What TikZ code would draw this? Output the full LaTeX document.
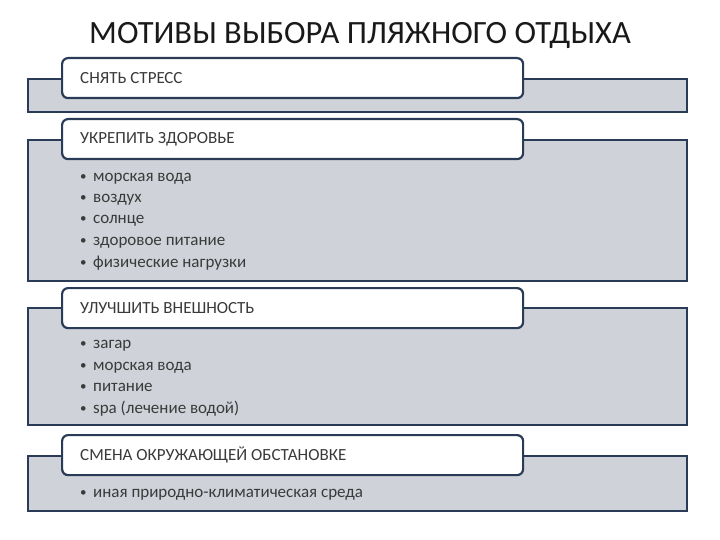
\documentclass[tikz,border=0pt]{standalone}
\usepackage{fontspec}
\setmainfont{Carlito}
\definecolor{navy}{HTML}{2A3B58}
\definecolor{panelgray}{HTML}{CFD3D9}
\definecolor{txt}{HTML}{3A3A3A}
\newcommand{\bul}{\raisebox{0.8pt}{\fontsize{13}{13}\selectfont•}\hspace{6.5pt}}
\begin{document}
\begin{tikzpicture}[x=1pt,y=-1pt,
  panel/.style={draw=navy,fill=panelgray,line width=2.2pt,anchor=north west,minimum width=659pt,inner sep=0pt},
  hdr/.style={draw=navy,fill=white,line width=2.2pt,rounded corners=6pt,anchor=north west,minimum width=461pt,minimum height=40pt,inner sep=0pt},
  hdrtext/.style={anchor=west,inner sep=0pt,text=txt,font=\fontsize{17}{19}\selectfont},
  item/.style={anchor=west,inner sep=0pt,text=txt,text height=11pt,text depth=4pt,font=\fontsize{17}{19}\selectfont}]
\useasboundingbox (0,0) rectangle (720,540);
\fill[white] (0,0) rectangle (720,540);
\node[text=black!90,font=\fontsize{32.5}{36}\selectfont] (title) at (360,35) {МОТИВЫ ВЫБОРА ПЛЯЖНОГО ОТДЫХА};
% panels
\node[panel,minimum height=33pt] (p1) at (27,78) {};
\node[panel,minimum height=141pt] (p2) at (27,139) {};
\node[panel,minimum height=117pt] (p3) at (27,307) {};
\node[panel,minimum height=55pt] (p4) at (27,455) {};
% headers
\node[hdr] (h1) at (61,57) {};
\node[hdr] (h2) at (61,118) {};
\node[hdr] (h3) at (61,287) {};
\node[hdr] (h4) at (61,434) {};
\node[hdrtext] (t1) at ([xshift=19pt]h1.west) {СНЯТЬ СТРЕСС};
\node[hdrtext] (t2) at ([xshift=19pt]h2.west) {УКРЕПИТЬ ЗДОРОВЬЕ};
\node[hdrtext] (t3) at ([xshift=19pt]h3.west) {УЛУЧШИТЬ ВНЕШНОСТЬ};
\node[hdrtext] (t4) at ([xshift=19pt]h4.west) {СМЕНА ОКРУЖАЮЩЕЙ ОБСТАНОВКЕ};
% items
\node[item] (a1) at (80,178) {\bul морская вода};
\node[item] (a2) at (80,199) {\bul воздух};
\node[item] (a3) at (80,220) {\bul солнце};
\node[item] (a4) at (80,242) {\bul здоровое питание};
\node[item] (a5) at (80,264) {\bul физические нагрузки};
\node[item] (b1) at (80,345) {\bul загар};
\node[item] (b2) at (80,367) {\bul морская вода};
\node[item] (b3) at (80,388) {\bul питание};
\node[item] (b4) at (80,410) {\bul spa (лечение водой)};
\node[item] (c1) at (80,494) {\bul иная природно-климатическая среда};
\end{tikzpicture}
\end{document}
